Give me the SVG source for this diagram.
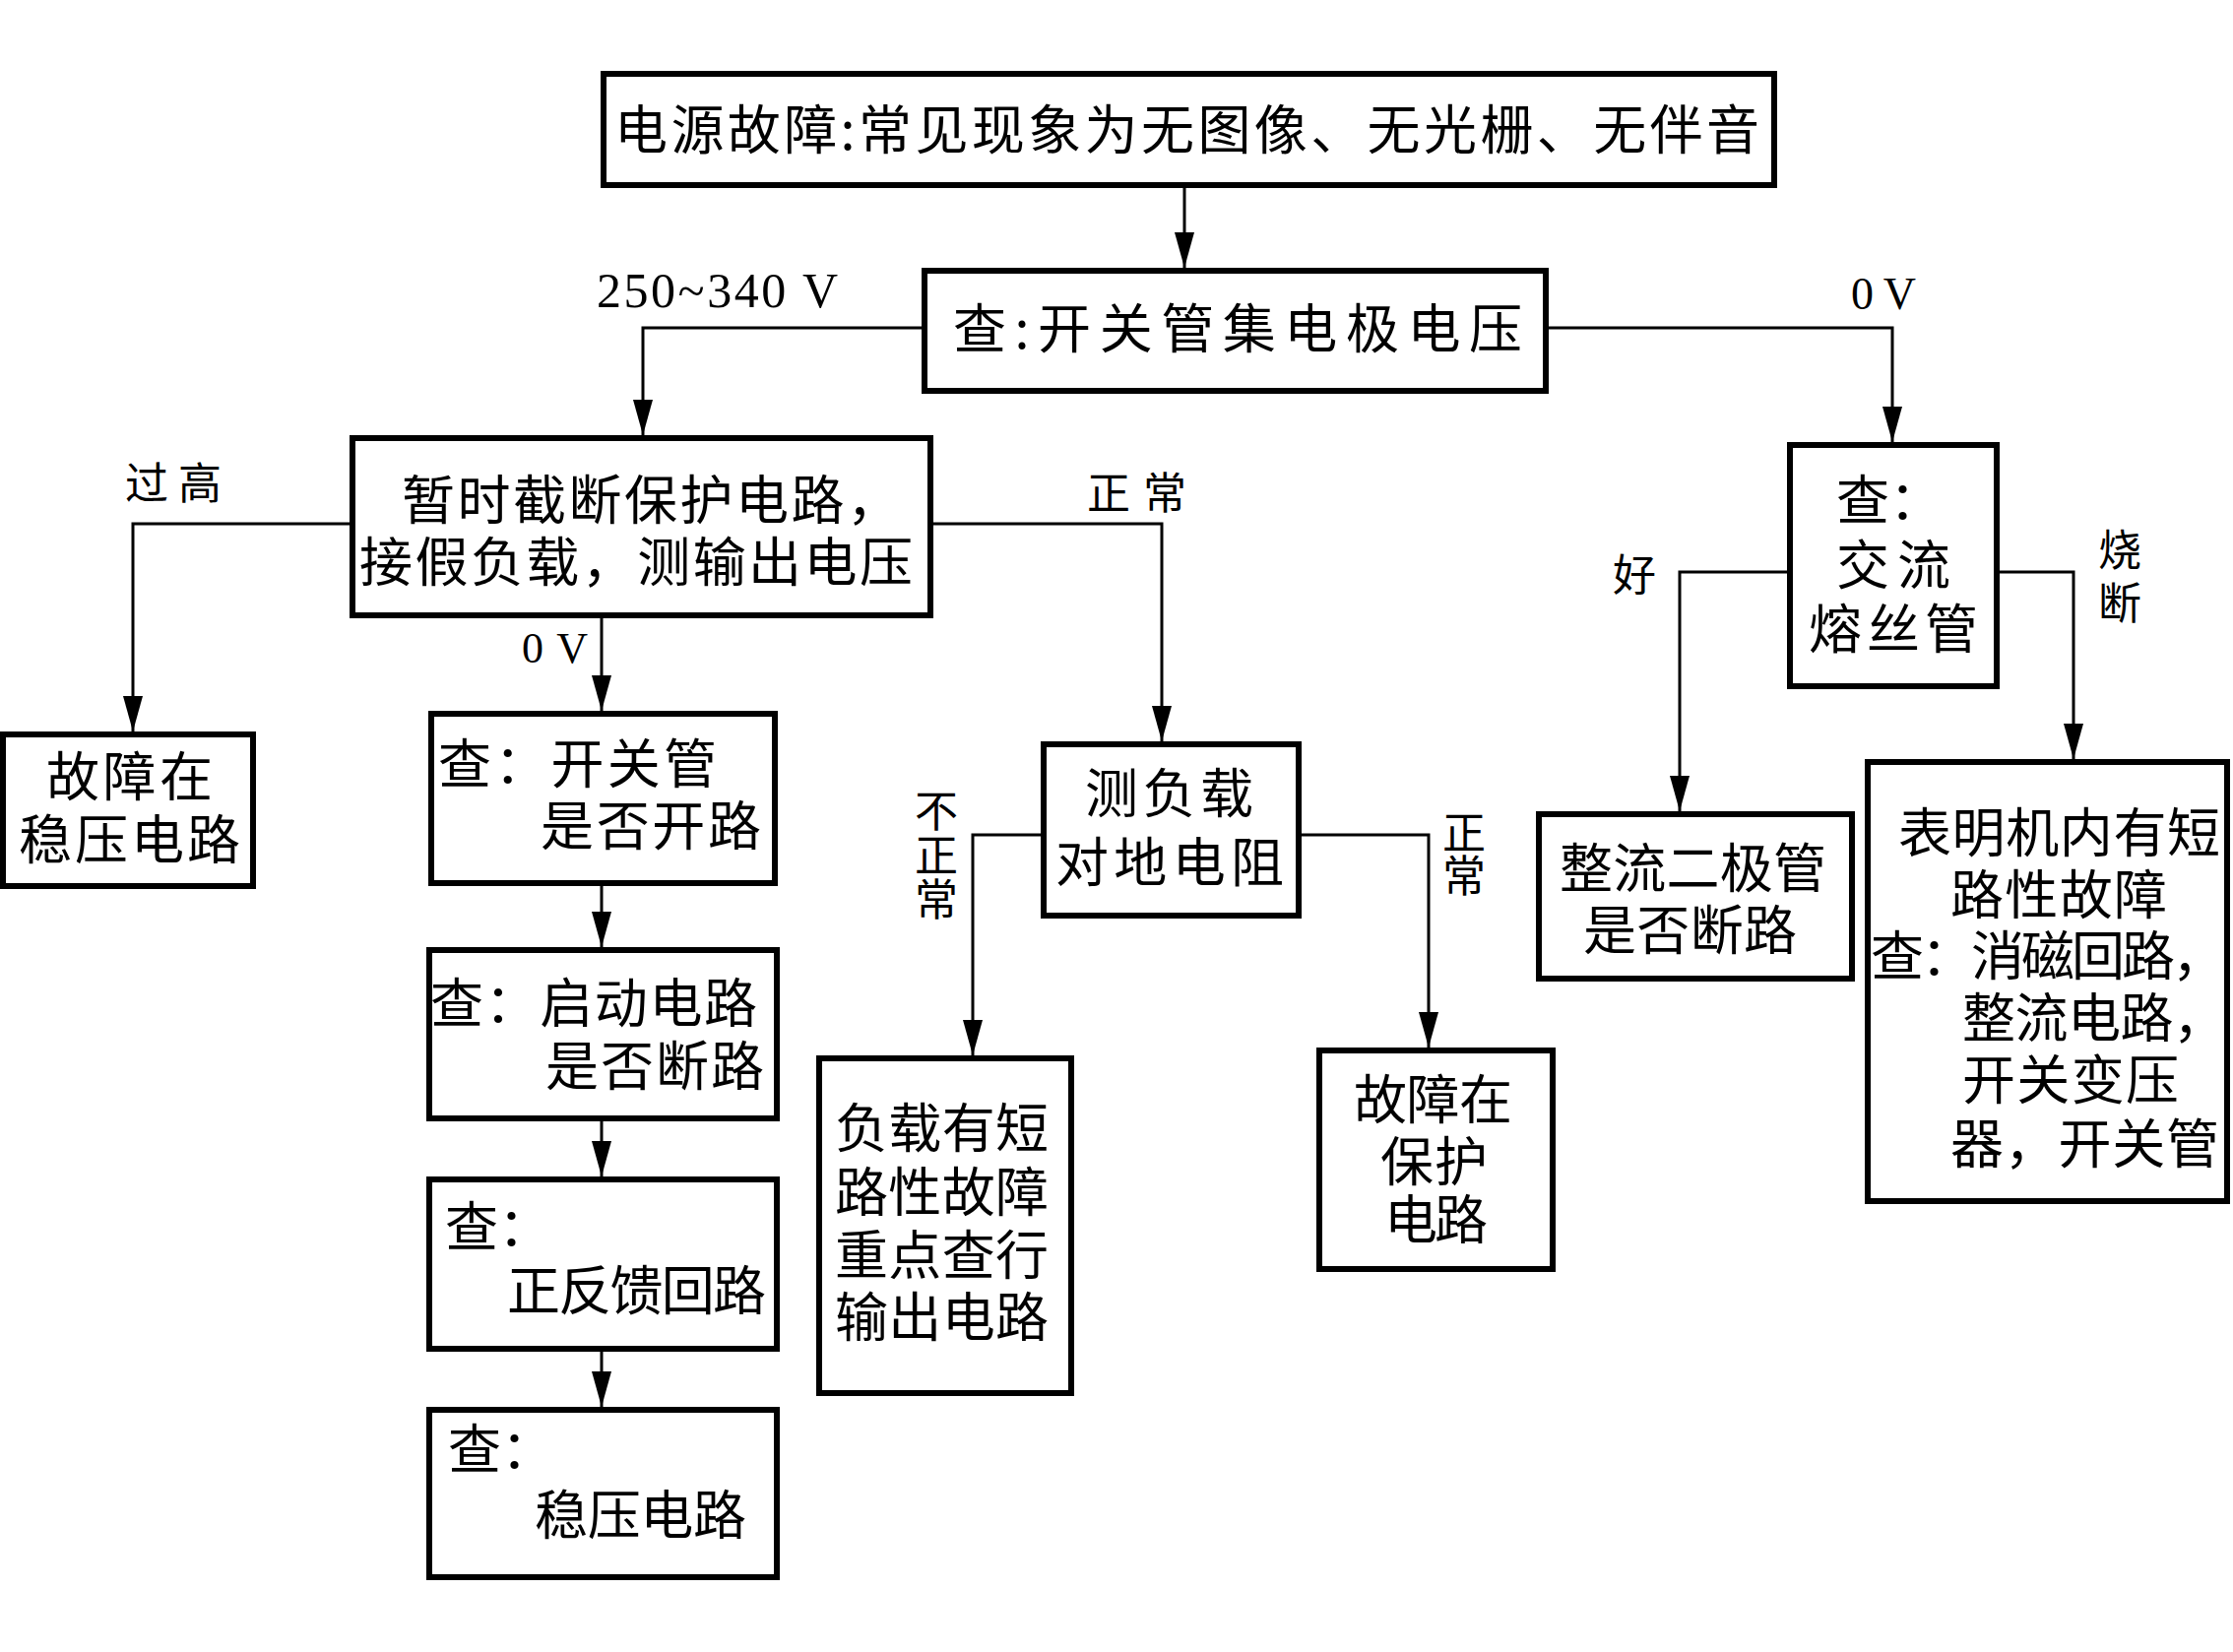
<svg xmlns="http://www.w3.org/2000/svg" width="2268" height="1678" viewBox="0 0 2268 1678">
<style>
.box{fill:#fff;stroke:#000;stroke-width:6}
.con{fill:none;stroke:#000;stroke-width:3}
.t{font-family:"Noto Sans CJK SC","Noto Sans",sans-serif;fill:#000;font-size:54px}
.lab{font-family:"Noto Sans CJK SC","Noto Sans",sans-serif;fill:#000;font-size:44px}
.num{font-family:"Liberation Serif",serif;fill:#000}
.vt{writing-mode:vertical-rl}
</style>
<defs>
<marker id="arr" viewBox="0 0 36 20" refX="36" refY="10" markerWidth="36" markerHeight="20" markerUnits="userSpaceOnUse" orient="auto">
<path d="M0,0 L36,10 L0,20 z" fill="#000"/>
</marker>
</defs>
<rect width="2268" height="1678" fill="#fff"/>
<g id="connectors">
<path class="con" d="M1203,191 V272" marker-end="url(#arr)"/>
<path class="con" d="M936,333 H653 V442" marker-end="url(#arr)"/>
<path class="con" d="M1573,333 H1922 V449" marker-end="url(#arr)"/>
<path class="con" d="M355,532 H135 V743" marker-end="url(#arr)"/>
<path class="con" d="M611,628 V722" marker-end="url(#arr)"/>
<path class="con" d="M948,532 H1180 V753" marker-end="url(#arr)"/>
<path class="con" d="M611,900 V962" marker-end="url(#arr)"/>
<path class="con" d="M611,1139 V1195" marker-end="url(#arr)"/>
<path class="con" d="M611,1373 V1429" marker-end="url(#arr)"/>
<path class="con" d="M1057,848 H988 V1072" marker-end="url(#arr)"/>
<path class="con" d="M1322,848 H1451 V1064" marker-end="url(#arr)"/>
<path class="con" d="M1815,581 H1706 V824" marker-end="url(#arr)"/>
<path class="con" d="M2031,581 H2106 V771" marker-end="url(#arr)"/>
<text class="num" x="606" y="312" font-size="50" textLength="245">250~340 V</text>
<text class="num" x="1880" y="314" font-size="46" textLength="66">0 V</text>
<text class="lab" x="127" y="507" textLength="98">过高</text>
<text class="num" x="530" y="673" font-size="44" textLength="67">0 V</text>
<text class="lab" x="1104" y="517" textLength="101">正常</text>
<text class="lab vt" x="951" y="801" textLength="134">不正常</text>
<text class="lab vt" x="1487" y="823" textLength="88">正常</text>
<text class="lab" x="1638" y="600">好</text>
<text class="lab vt" x="2153" y="536" font-size="46" textLength="98">烧断</text>
</g>
<g id="n1"><rect class="box" x="613" y="75" width="1189" height="113"/>
<text class="t" x="624" y="152" font-size="60" textLength="1163">电源故障:常见现象为无图像、无光栅、无伴音</text></g>
<g id="n2"><rect class="box" x="939" y="275" width="631" height="122"/>
<text class="t" x="968" y="354" font-size="58" textLength="578">查:开关管集电极电压</text></g>
<g id="n3"><rect class="box" x="358" y="445" width="587" height="180"/>
<text class="t"><tspan x="408" y="528" textLength="506">暂时截断保护电路，</tspan><tspan x="365" y="591" textLength="562">接假负载，测输出电压</tspan></text></g>
<g id="n4"><rect class="box" x="3" y="746" width="254" height="154"/>
<text class="t"><tspan x="47" y="809" textLength="169">故障在</tspan><tspan x="19" y="873" textLength="225">稳压电路</tspan></text></g>
<g id="n5"><rect class="box" x="438" y="725" width="349" height="172"/>
<text class="t"><tspan x="445" y="796" textLength="283">查：开关管</tspan><tspan x="549" y="859" textLength="224">是否开路</tspan></text></g>
<g id="n6"><rect class="box" x="436" y="965" width="353" height="171"/>
<text class="t"><tspan x="437" y="1039" textLength="332">查：启动电路</tspan><tspan x="554" y="1103" textLength="222">是否断路</tspan></text></g>
<g id="n7"><rect class="box" x="436" y="1198" width="353" height="172"/>
<text class="t"><tspan x="452" y="1266">查：</tspan><tspan x="515" y="1331" textLength="263">正反馈回路</tspan></text></g>
<g id="n8"><rect class="box" x="436" y="1432" width="353" height="170"/>
<text class="t"><tspan x="455" y="1492">查：</tspan><tspan x="543" y="1559" textLength="215">稳压电路</tspan></text></g>
<g id="n9"><rect class="box" x="832" y="1075" width="256" height="340"/>
<text class="t"><tspan x="848" y="1166" textLength="217">负载有短</tspan><tspan x="848" y="1231" textLength="217">路性故障</tspan><tspan x="848" y="1295" textLength="217">重点查行</tspan><tspan x="848" y="1358" textLength="217">输出电路</tspan></text></g>
<g id="n10"><rect class="box" x="1060" y="756" width="259" height="174"/>
<text class="t"><tspan x="1102" y="826" textLength="171">测负载</tspan><tspan x="1072" y="896" textLength="232">对地电阻</tspan></text></g>
<g id="n11"><rect class="box" x="1340" y="1067" width="237" height="222"/>
<text class="t"><tspan x="1375" y="1137" textLength="161">故障在</tspan><tspan x="1402" y="1200" textLength="109">保护</tspan><tspan x="1406" y="1259" textLength="105">电路</tspan></text></g>
<g id="n12"><rect class="box" x="1563" y="827" width="318" height="167"/>
<text class="t"><tspan x="1584" y="902" textLength="271">整流二极管</tspan><tspan x="1608" y="965" textLength="217">是否断路</tspan></text></g>
<g id="n13"><rect class="box" x="1818" y="452" width="210" height="245"/>
<text class="t" font-size="52"><tspan x="1865" y="528">查：</tspan><tspan x="1865" y="594" textLength="116">交流</tspan><tspan x="1837" y="659" textLength="172">熔丝管</tspan></text></g>
<g id="n14"><rect class="box" x="1897" y="774" width="365" height="446"/>
<text class="t" font-size="50"><tspan x="1928" y="866" textLength="327">表明机内有短</tspan><tspan x="1981" y="929" textLength="220">路性故障</tspan><tspan x="1900" y="991" textLength="360">查：消磁回路，</tspan><tspan x="1993" y="1054" textLength="268">整流电路，</tspan><tspan x="1993" y="1117" textLength="220">开关变压</tspan><tspan x="1981" y="1182" textLength="273">器，开关管</tspan></text></g>
</svg>
